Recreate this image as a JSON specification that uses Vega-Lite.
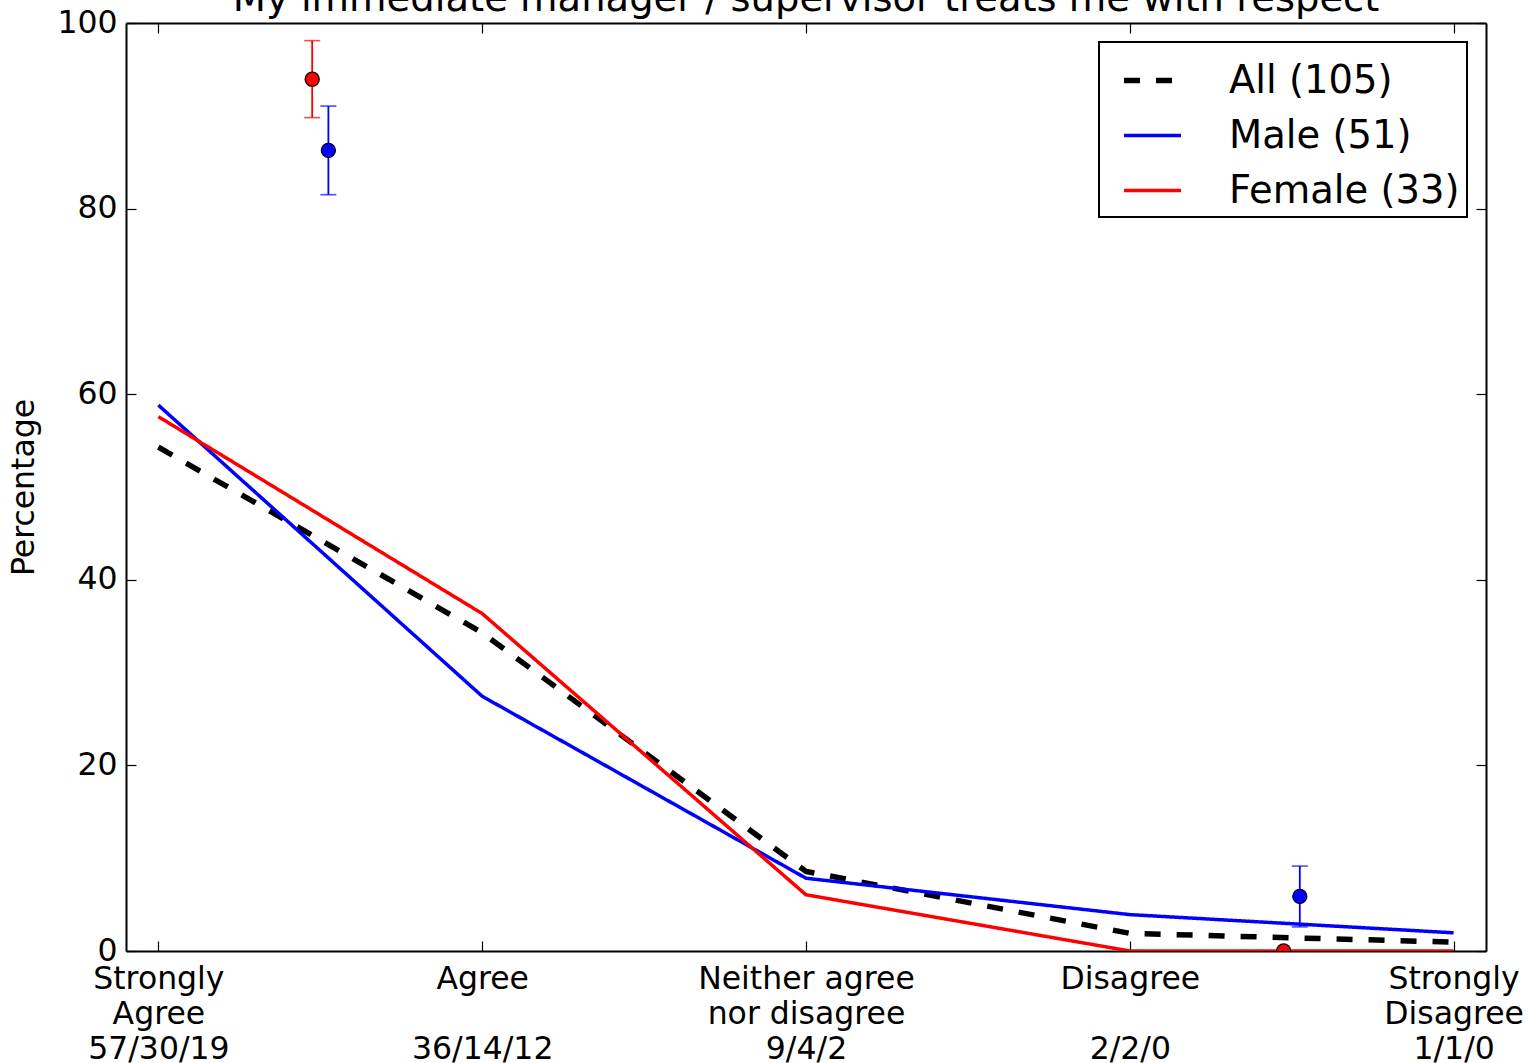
{
  "$schema": "https://vega.github.io/schema/vega-lite/v6.json",
  "autosize": "none",
  "width": 1360,
  "height": 928,
  "padding": {"left": 126, "top": 23, "right": 43, "bottom": 112},
  "background": "white",
  "title": {
    "text": "My immediate manager / supervisor treats me with respect",
    "fontSize": 38.5,
    "font": "DejaVu Sans",
    "fontWeight": "normal",
    "color": "black",
    "anchor": "middle",
    "frame": "group",
    "baseline": "alphabetic",
    "offset": 0,
    "dy": 42
  },
  "config": {
    "view": {"stroke": null},
    "font": "DejaVu Sans",
    "axis": {
      "domainColor": "black",
      "domainWidth": 2,
      "tickColor": "black",
      "tickWidth": 1.2,
      "tickSize": -10,
      "grid": false,
      "labelFont": "DejaVu Sans",
      "labelFontSize": 31.5,
      "labelColor": "black",
      "titleFont": "DejaVu Sans",
      "titleFontSize": 31.5,
      "titleFontWeight": "normal",
      "titleColor": "black",
      "zindex": 1
    },
    "legend": {
      "orient": "top-right",
      "offset": 19,
      "labelFont": "DejaVu Sans",
      "labelFontSize": 38.5,
      "labelColor": "black",
      "labelLimit": 500,
      "labelOffset": 45,
      "symbolType": "stroke",
      "symbolSize": 3249,
      "symbolStrokeWidth": 3.5,
      "symbolOffset": 15,
      "strokeColor": "black",
      "strokeWidth": 2,
      "fillColor": "white",
      "padding": 7,
      "rowPadding": 5,
      "cornerRadius": 0
    }
  },
  "datasets": {
    "lines": [
      {"series": "All (105)", "x": 0, "pct": 54.29},
      {"series": "All (105)", "x": 1, "pct": 34.29},
      {"series": "All (105)", "x": 2, "pct": 8.57},
      {"series": "All (105)", "x": 3, "pct": 1.9},
      {"series": "All (105)", "x": 4, "pct": 0.95},
      {"series": "Male (51)", "x": 0, "pct": 58.82},
      {"series": "Male (51)", "x": 1, "pct": 27.45},
      {"series": "Male (51)", "x": 2, "pct": 7.84},
      {"series": "Male (51)", "x": 3, "pct": 3.92},
      {"series": "Male (51)", "x": 4, "pct": 1.96},
      {"series": "Female (33)", "x": 0, "pct": 57.58},
      {"series": "Female (33)", "x": 1, "pct": 36.36},
      {"series": "Female (33)", "x": 2, "pct": 6.06},
      {"series": "Female (33)", "x": 3, "pct": 0},
      {"series": "Female (33)", "x": 4, "pct": 0}
    ],
    "points": [
      {"group": "Female", "x": 0.475, "pct": 93.94, "lo": 89.8, "hi": 98.1},
      {"group": "Male", "x": 0.525, "pct": 86.27, "lo": 81.5, "hi": 91.05},
      {"group": "Female", "x": 3.475, "pct": 0, "lo": 0, "hi": 0},
      {"group": "Male", "x": 3.525, "pct": 5.88, "lo": 2.6, "hi": 9.15}
    ]
  },
  "layer": [
    {
      "data": {"name": "lines"},
      "mark": {"type": "line", "clip": true},
      "encoding": {
        "x": {
          "field": "x", "type": "quantitative",
          "scale": {"domain": [-0.1, 4.1], "nice": false, "zero": false},
          "axis": {
            "orient": "bottom",
            "title": null,
            "values": [0, 1, 2, 3, 4],
            "labelPadding": 22,
            "labelBaseline": "top",
            "labelLineHeight": 35,
            "labelLimit": 600,
            "labelFlush": false,
            "labelOverlap": false,
            "labelExpr": "[['Strongly','Agree','57/30/19'],['Agree','\u200b','36/14/12'],['Neither agree','nor disagree','9/4/2'],['Disagree','\u200b','2/2/0'],['Strongly','Disagree','1/1/0']][datum.value]"
          }
        },
        "y": {
          "field": "pct", "type": "quantitative",
          "scale": {"domain": [0, 100], "nice": false},
          "axis": {
            "orient": "left",
            "title": "Percentage",
            "values": [0, 20, 40, 60, 80, 100],
            "labelPadding": 19,
            "titlePadding": 16,
            "labelFlush": false,
            "labelOverlap": false
          }
        },
        "color": {
          "field": "series", "type": "nominal",
          "sort": ["All (105)", "Male (51)", "Female (33)"],
          "scale": {"domain": ["All (105)", "Male (51)", "Female (33)"], "range": ["#000000", "#0000ff", "#ff0000"]},
          "legend": {"title": null}
        },
        "strokeDash": {
          "field": "series", "type": "nominal",
          "sort": ["All (105)", "Male (51)", "Female (33)"],
          "scale": {"domain": ["All (105)", "Male (51)", "Female (33)"], "range": [[16, 16], [1, 0], [1, 0]]},
          "legend": {"title": null}
        },
        "strokeWidth": {
          "field": "series", "type": "nominal",
          "sort": ["All (105)", "Male (51)", "Female (33)"],
          "scale": {"type": "ordinal", "domain": ["All (105)", "Male (51)", "Female (33)"], "range": [5.5, 3.5, 3.5]},
          "legend": {"title": null}
        }
      }
    },
    {
      "data": {"name": "points"},
      "mark": {"type": "rule", "clip": true, "strokeWidth": 1.8},
      "encoding": {
        "x": {"field": "x", "type": "quantitative", "axis": null},
        "y": {"field": "lo", "type": "quantitative", "axis": null},
        "y2": {"field": "hi"},
        "stroke": {
          "field": "group", "type": "nominal",
          "scale": {"domain": ["Female", "Male"], "range": ["#ff0000", "#0000ff"]},
          "legend": null
        }
      }
    },
    {
      "data": {"name": "points"},
      "mark": {"type": "tick", "orient": "horizontal", "size": 16, "thickness": 1.6, "clip": true},
      "encoding": {
        "x": {"field": "x", "type": "quantitative", "axis": null},
        "y": {"field": "lo", "type": "quantitative", "axis": null},
        "fill": {
          "field": "group", "type": "nominal",
          "scale": {"domain": ["Female", "Male"], "range": ["#ff0000", "#0000ff"]},
          "legend": null
        }
      }
    },
    {
      "data": {"name": "points"},
      "mark": {"type": "tick", "orient": "horizontal", "size": 16, "thickness": 1.6, "clip": true},
      "encoding": {
        "x": {"field": "x", "type": "quantitative", "axis": null},
        "y": {"field": "hi", "type": "quantitative", "axis": null},
        "fill": {
          "field": "group", "type": "nominal",
          "scale": {"domain": ["Female", "Male"], "range": ["#ff0000", "#0000ff"]},
          "legend": null
        }
      }
    },
    {
      "data": {"name": "points"},
      "mark": {"type": "point", "shape": "circle", "filled": true, "size": 200, "stroke": "black", "strokeWidth": 1.2, "opacity": 1, "clip": true},
      "encoding": {
        "x": {
          "field": "x", "type": "quantitative",
          "axis": {"orient": "top", "title": null, "labels": false, "values": [0, 1, 2, 3, 4]}
        },
        "y": {
          "field": "pct", "type": "quantitative",
          "axis": {"orient": "right", "title": null, "labels": false, "values": [0, 20, 40, 60, 80, 100]}
        },
        "fill": {
          "field": "group", "type": "nominal",
          "scale": {"domain": ["Female", "Male"], "range": ["#ff0000", "#0000ff"]},
          "legend": null
        }
      }
    }
  ],
  "resolve": {"axis": {"x": "independent", "y": "independent"}}
}
